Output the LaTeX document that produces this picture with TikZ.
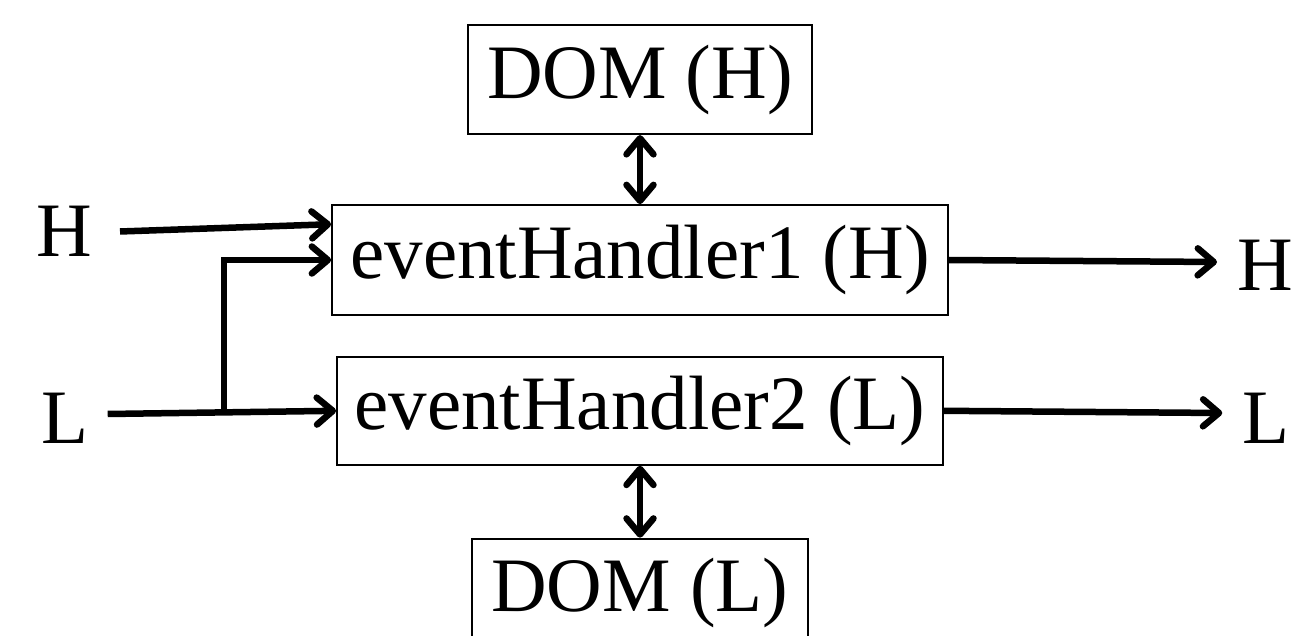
\documentclass[tikz,border=0pt]{standalone}
\usepackage{fontspec}
\setmainfont{Liberation Serif}
\usetikzlibrary{calc, arrows.meta, positioning}
\tikzset{
  block/.style={draw,line width=1.8pt,inner sep=0pt,font=\fontsize{77}{82}\selectfont},
  port/.style={inner sep=0pt,font=\fontsize{77}{82}\selectfont},
  flow/.style={-{Straight Barb[length=16pt,width=27pt,round]}, line width=6.5pt},
  sync/.style={{Straight Barb[length=16pt,width=27pt,round]}-{Straight Barb[length=16pt,width=27pt,round]}, line width=6.5pt}
}

\begin{document}
\begin{tikzpicture}[x=1pt,y=1pt]
  \useasboundingbox (0,0) rectangle (1308,635);
  \node[block, minimum width=616pt, minimum height=110pt] (EH1) at (640,375) {eventHandler1 (H)};
  \node[block, minimum width=606pt, minimum height=108pt, below=40pt of EH1] (EH2) {eventHandler2 (L)};
  \node[block, minimum width=344pt, minimum height=109pt, above=69pt of EH1] (DOMH) {DOM (H)};
  \node[block, minimum width=336pt, minimum height=109pt, below=72pt of EH2] (DOML) {DOM (L)};
  \node[port] (inH) at (64,403.5) {H};
  \node[port] (inL) at (65,217) {L};
  \node[port] (outH) at (1265,370) {H};
  \node[port] (outL) at (1266,217) {L};
  \draw[sync] (DOMH) -- (EH1);
  \draw[sync] (EH2) -- (DOML);
  \coordinate (EH1in) at ($(EH1.north west)!0.18!(EH1.south west)$);
  \coordinate (Lstart) at ($(inL.east)+(19pt,4pt)$);
  \coordinate (split) at ($(Lstart)!0.51!(EH2.west)$);
  \draw[flow] ($(inH.east)+(28pt,0)$) -- (EH1in);
  \draw[flow] (Lstart) -- (EH2.west);
  \draw[flow] (split) |- (EH1.west);
  \draw[flow] (EH1.east) -- ($(outH.west)+(-20pt,3pt)$);
  \draw[flow] (EH2.east) -- ($(outL.west)+(-20pt,5pt)$);
\end{tikzpicture}
\end{document}
